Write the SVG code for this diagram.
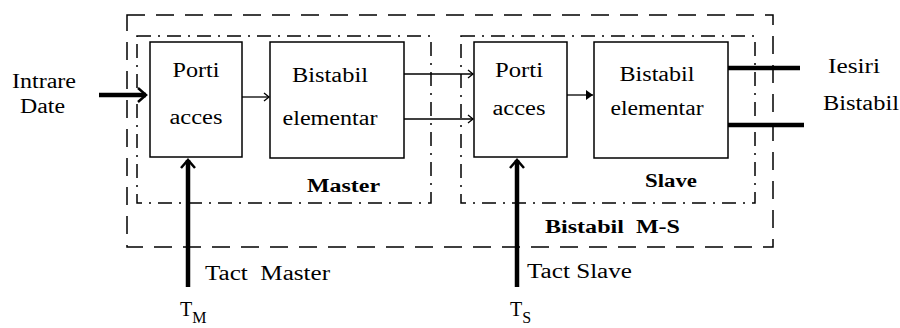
<svg xmlns="http://www.w3.org/2000/svg" width="900" height="328" viewBox="0 0 900 328">
<style>
  .box{fill:#fff;stroke:#000;stroke-width:1.5}
  .outer{fill:none;stroke:#000;stroke-width:1.5;stroke-dasharray:18,11}
  .inner{fill:none;stroke:#000;stroke-width:1.5;stroke-dasharray:14,7,2,7}
  .t{font-family:"Liberation Serif","Times New Roman",serif;font-size:20px;fill:#000}
  .b{font-family:"Liberation Serif","Times New Roman",serif;font-size:18px;font-weight:bold;fill:#000}
  .thin{stroke:#000;stroke-width:1.3;fill:none}
  .thick{stroke:#000;stroke-width:4.5;fill:none}
</style>
<defs>
  <marker id="openThick" viewBox="-12 -12 24 24" markerWidth="24" markerHeight="24" refX="0" refY="0" markerUnits="userSpaceOnUse" orient="auto" overflow="visible">
    <path d="M-8,-7 L0,0 L-8,7" fill="none" stroke="#000" stroke-width="2.5"/>
  </marker>
  <marker id="openThin" viewBox="-8 -8 16 16" markerWidth="16" markerHeight="16" refX="0" refY="0" markerUnits="userSpaceOnUse" orient="auto" overflow="visible">
    <path d="M-5,-4 L0,0 L-5,4" fill="none" stroke="#000" stroke-width="1.3"/>
  </marker>
  <marker id="filled" viewBox="-8 -8 16 16" markerWidth="16" markerHeight="16" refX="0" refY="0" markerUnits="userSpaceOnUse" orient="auto" overflow="visible">
    <path d="M-7,-5 L0,0 L-7,5 Z" fill="#000" stroke="none"/>
  </marker>
</defs>
<rect width="900" height="328" fill="#fff"/>

<g id="bistabil-ms">
  <rect class="outer" x="127" y="15" width="646" height="232"/>
  <text class="b" x="545" y="233" textLength="135" lengthAdjust="spacingAndGlyphs">Bistabil&#160;&#160;M-S</text>
</g>
<g id="master">
  <rect class="inner" x="137" y="36" width="294" height="167"/>
  <text class="b" x="307" y="192" textLength="73" lengthAdjust="spacingAndGlyphs">Master</text>
</g>
<g id="slave">
  <rect class="inner" x="461" y="36" width="294" height="167"/>
  <text class="b" x="645" y="187" textLength="52" lengthAdjust="spacingAndGlyphs">Slave</text>
</g>

<g id="connectors">
  <line class="thick" x1="99" y1="95" x2="146" y2="95" marker-end="url(#openThick)"/>
  <line class="thin" x1="242" y1="97" x2="269" y2="97" marker-end="url(#openThin)"/>
  <line class="thin" x1="404" y1="74" x2="473" y2="74" marker-end="url(#openThin)"/>
  <line class="thin" x1="404" y1="119" x2="473" y2="119" marker-end="url(#openThin)"/>
  <line class="thin" x1="567" y1="95" x2="593" y2="95" marker-end="url(#filled)"/>
  <line class="thick" x1="728" y1="68" x2="800" y2="68"/>
  <line class="thick" x1="728" y1="125" x2="804" y2="125"/>
  <line class="thick" x1="188" y1="287" x2="188" y2="160" marker-end="url(#openThick)"/>
  <line class="thick" x1="517" y1="287" x2="517" y2="160" marker-end="url(#openThick)"/>
</g>

<g id="porti-master">
  <rect class="box" x="150" y="42" width="92" height="115"/>
  <text class="t" x="196" y="77" text-anchor="middle" textLength="47" lengthAdjust="spacingAndGlyphs">Porti</text>
  <text class="t" x="196" y="124" text-anchor="middle" textLength="53" lengthAdjust="spacingAndGlyphs">acces</text>
</g>
<g id="bistabil-master">
  <rect class="box" x="270" y="42" width="134" height="116"/>
  <text class="t" x="330" y="82" text-anchor="middle" textLength="76" lengthAdjust="spacingAndGlyphs">Bistabil</text>
  <text class="t" x="330" y="125" text-anchor="middle" textLength="95" lengthAdjust="spacingAndGlyphs">elementar</text>
</g>
<g id="porti-slave">
  <rect class="box" x="474" y="42" width="93" height="115"/>
  <text class="t" x="519" y="77" text-anchor="middle" textLength="48" lengthAdjust="spacingAndGlyphs">Porti</text>
  <text class="t" x="519" y="115" text-anchor="middle" textLength="53" lengthAdjust="spacingAndGlyphs">acces</text>
</g>
<g id="bistabil-slave">
  <rect class="box" x="594" y="42" width="134" height="116"/>
  <text class="t" x="657" y="81" text-anchor="middle" textLength="75" lengthAdjust="spacingAndGlyphs">Bistabil</text>
  <text class="t" x="657" y="115" text-anchor="middle" textLength="93" lengthAdjust="spacingAndGlyphs">elementar</text>
</g>

<g id="labels">
  <text class="t" x="12" y="88" textLength="64" lengthAdjust="spacingAndGlyphs">Intrare</text>
  <text class="t" x="20" y="113" textLength="45" lengthAdjust="spacingAndGlyphs">Date</text>
  <text class="t" x="828" y="73" textLength="52" lengthAdjust="spacingAndGlyphs">Iesiri</text>
  <text class="t" x="823" y="110" textLength="76" lengthAdjust="spacingAndGlyphs">Bistabil</text>
  <text class="t" x="205" y="280" textLength="125" lengthAdjust="spacingAndGlyphs">Tact&#160;&#160;Master</text>
  <text class="t" x="527" y="278" textLength="105" lengthAdjust="spacingAndGlyphs">Tact Slave</text>
  <text class="t" x="180" y="316">T<tspan font-size="16" dy="7">M</tspan></text>
  <text class="t" x="510" y="316">T<tspan font-size="16" dy="7">S</tspan></text>
</g>
</svg>
